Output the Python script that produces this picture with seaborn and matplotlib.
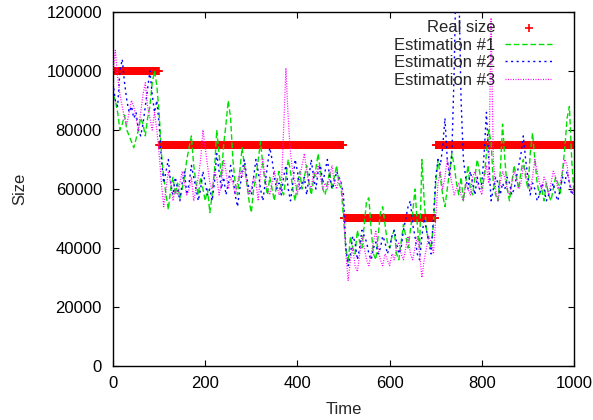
import numpy as np
import pandas as pd
import seaborn as sns
import matplotlib.pyplot as plt

# =====================================================
# DATA (sizes in thousands, estimations sampled every 5 time units)
# =====================================================
seg_edges = [0, 100, 500, 700, 1000]
seg_sizes = [100000, 75000, 50000, 75000]

est_step = 5

est1 = [
    92, 90, 86, 80, 82, 85, 80, 78, 76, 74,
    77, 80, 84, 82, 78, 84, 88, 96, 100, 95,
    86, 72, 64, 58, 53, 60, 64, 58, 62, 57,
    60, 64, 70, 74, 78, 68, 62, 58, 64, 60,
    56, 60, 52, 58, 66, 80, 72, 64, 75, 82,
    90, 84, 70, 62, 58, 66, 74, 68, 62, 56,
    52, 60, 64, 70, 76, 68, 62, 58, 64, 60,
    56, 62, 66, 60, 58, 64, 70, 66, 60, 56,
    62, 66, 60, 64, 68, 62, 58, 63, 67, 72,
    66, 60, 58, 62, 66, 60, 64, 68, 62, 60,
    50, 40, 35, 44, 40, 38, 46, 42, 40, 48,
    56, 57, 46, 38, 36, 44, 52, 54, 48, 42,
    40, 44, 46, 38, 36, 42, 48, 44, 40, 46,
    52, 60, 48, 40, 70, 56, 46, 42, 40, 48,
    62, 70, 64, 58, 54, 60, 66, 72, 68, 62,
    58, 64, 56, 62, 68, 60, 58, 64, 70, 66,
    60, 64, 72, 80, 76, 62, 58, 56, 66, 82,
    70, 60, 56, 62, 68, 64, 60, 66, 70, 64,
    60, 72, 79, 70, 62, 58, 60, 56, 62, 58,
    56, 60, 64, 62, 58, 66, 74, 84, 88, 70,
    58,
]

est2 = [
    96, 90, 88, 100, 104, 96, 90, 86, 88, 84,
    86, 80, 78, 82, 88, 94, 100, 92, 86, 90,
    82, 70, 62, 66, 70, 62, 58, 64, 60, 56,
    62, 66, 58, 62, 68, 64, 60, 56, 60, 66,
    62, 58, 60, 56, 62, 72, 66, 60, 64, 58,
    62, 68, 64, 58, 54, 60, 66, 70, 64, 60,
    58, 64, 70, 66, 60, 56, 62, 68, 74, 70,
    64, 60, 62, 58, 64, 68, 60, 56, 62, 70,
    66, 60, 62, 64, 58, 64, 70, 64, 60, 66,
    68, 62, 66, 70, 64, 60, 62, 66, 64, 62,
    58, 40, 34, 38, 44, 42, 36, 40, 46, 44,
    42, 38, 36, 40, 42, 38, 40, 44, 42, 38,
    40, 44, 46, 42, 38, 40, 46, 50, 54, 56,
    48, 44, 38, 36, 44, 50, 46, 42, 38, 50,
    64, 70, 68, 74, 84, 70, 64, 72, 100, 140,
    130, 90, 70, 64, 60, 66, 62, 58, 64, 60,
    62, 72, 86, 70, 56, 60, 64, 62, 58, 62,
    60, 64, 62, 58, 60, 64, 68, 72, 78, 70,
    64, 58, 62, 60, 56, 58, 62, 60, 56, 58,
    60, 62, 58, 56, 60, 64, 62, 66, 62, 58,
    60,
]

est3 = [
    100, 107, 98, 92, 88, 84, 82, 86, 90, 88,
    84, 80, 86, 92, 96, 88, 84, 80, 86, 80,
    72, 62, 54, 60, 66, 62, 56, 60, 58, 62,
    66, 62, 58, 60, 64, 56, 60, 64, 70, 80,
    74, 68, 62, 60, 66, 64, 58, 62, 70, 66,
    60, 64, 62, 58, 62, 66, 64, 68, 62, 58,
    60, 64, 62, 56, 66, 70, 64, 60, 58, 62,
    66, 62, 58, 60, 80, 101, 84, 72, 66, 62,
    58, 64, 68, 72, 66, 62, 60, 66, 64, 68,
    64, 60, 62, 60, 64, 68, 62, 60, 64, 62,
    54, 38, 29, 36, 40, 34, 32, 38, 44, 40,
    36, 34, 38, 42, 46, 40, 36, 34, 38, 36,
    34, 38, 36, 40, 42, 38, 36, 40, 44, 38,
    36, 40, 44, 38, 30, 36, 40, 44, 42, 38,
    50, 62, 66, 60, 64, 70, 66, 62, 58, 60,
    62, 58, 56, 62, 60, 58, 64, 66, 62, 60,
    58, 64, 68, 62, 118, 70, 60, 56, 62, 66,
    64, 60, 58, 62, 66, 64, 60, 62, 68, 66,
    62, 60, 64, 70, 66, 62, 60, 64, 62, 58,
    62, 66, 64, 60, 62, 66, 70, 68, 62, 60,
    58,
]

# =====================================================
# BUILD FRAMES
# =====================================================
real_t = np.arange(seg_edges[0], seg_edges[-1])
real_size = np.repeat(seg_sizes, np.diff(seg_edges))
real_df = pd.DataFrame({"time": real_t, "size": real_size})

est_t = np.arange(len(est1)) * est_step
est_df = pd.DataFrame({
    "time": est_t,
    "est1": np.array(est1) * 1000,
    "est2": np.array(est2) * 1000,
    "est3": np.array(est3) * 1000,
})

# =====================================================
# PLOT
# =====================================================
sns.set_style("ticks")
plt.rcParams["font.family"] = ["Liberation Sans", "DejaVu Sans"]

fig = plt.figure(figsize=(5.93, 4.2), dpi=100)
ax = fig.add_axes([0.1906, 0.1286, 0.7774, 0.8428])

sns.scatterplot(data=real_df, x="time", y="size", ax=ax, marker="+",
                color="#ff0000", s=40, linewidth=1.2, label="Real size",
                zorder=1)
sns.lineplot(data=est_df, x="time", y="est1", ax=ax, color="#00e000",
             lw=1.0, dashes=False, label="Estimation #1", zorder=2)
sns.lineplot(data=est_df, x="time", y="est2", ax=ax, color="#0000ff",
             lw=1.0, dashes=False, label="Estimation #2", zorder=3)
sns.lineplot(data=est_df, x="time", y="est3", ax=ax, color="#ff00ff",
             lw=0.9, dashes=False, label="Estimation #3", zorder=4)

ax.lines[0].set_dashes([4, 2])
ax.lines[1].set_dashes([1.5, 2.5])
ax.lines[2].set_dashes([0.8, 1.2])

ax.set_xlim(0, 1000)
ax.set_ylim(0, 120000)
ax.set_xticks(range(0, 1001, 200))
ax.set_yticks(range(0, 120001, 20000))
ax.tick_params(direction="in", length=4, width=0.8, labelsize=12,
               top=True, right=True, colors="black")
ax.tick_params(axis="x", pad=7)
ax.tick_params(axis="y", pad=8)
for sp in ax.spines.values():
    sp.set_visible(True)
    sp.set_linewidth(1.0)
    sp.set_color("black")

ax.set_xlabel("Time", fontsize=12, labelpad=8)
ax.set_ylabel("Size", fontsize=12, labelpad=14)

handles, labels = ax.get_legend_handles_labels()
leg = ax.legend(handles, labels, loc="upper right", frameon=False,
                markerfirst=False, fontsize=12, handlelength=2.8,
                borderaxespad=0, borderpad=0, labelspacing=0.15,
                handletextpad=0.6, bbox_to_anchor=(0.952, 0.977))

plt.savefig("out.png", dpi=100)
plt.close()
